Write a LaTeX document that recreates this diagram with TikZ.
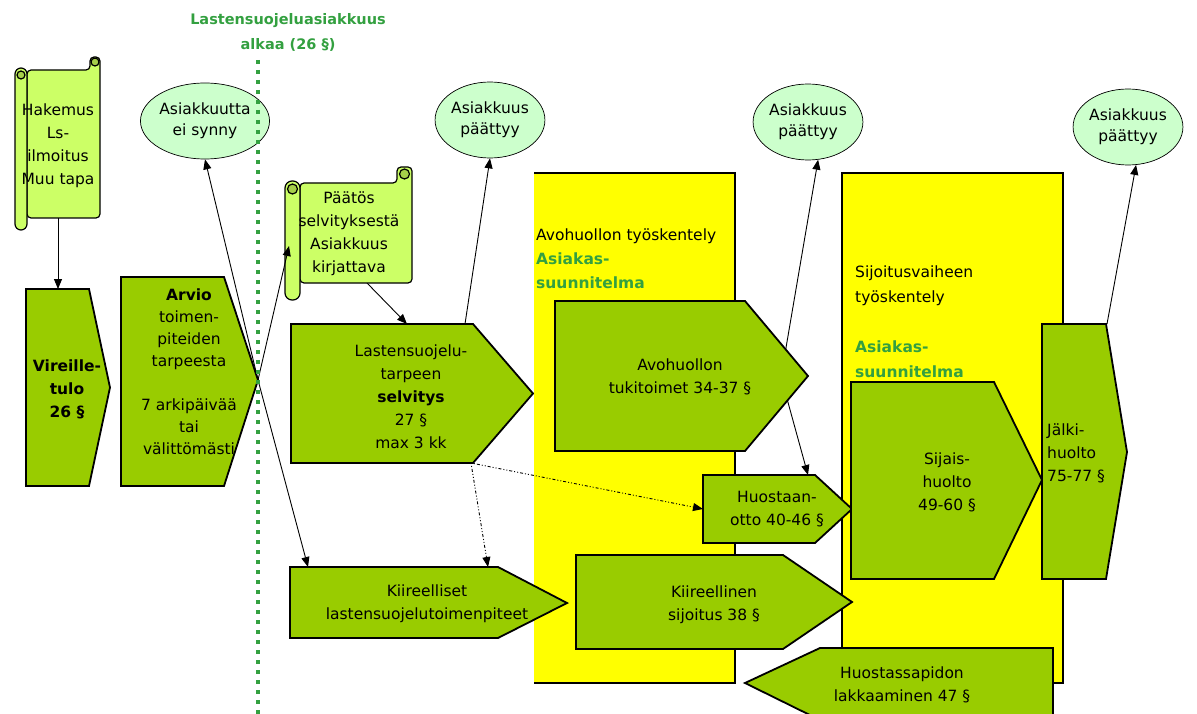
\documentclass[tikz,border=0pt]{standalone}
\usepackage{fontspec}
\setmainfont{DejaVu Sans}
\usetikzlibrary{shapes.geometric,arrows.meta}
\definecolor{phasegreen}{RGB}{153,204,0}
\definecolor{scrollgreen}{RGB}{204,255,102}
\definecolor{curlgreen}{RGB}{166,207,74}
\definecolor{endgreen}{RGB}{204,255,204}
\definecolor{textgreen}{RGB}{51,160,64}
\definecolor{phaseyellow}{RGB}{255,255,0}

\begin{document}
\begin{tikzpicture}[x=1pt,y=-1pt,>={Triangle[length=10pt,width=8pt]},
  phase/.style={draw,fill=phasegreen,line width=1.8pt,line join=miter},
  scrollpart/.style={draw,fill=scrollgreen,line width=1.2pt},
  txt/.style={font=\fontsize{15.5}{23}\selectfont,align=center,inner sep=0pt},
  boldtxt/.style={txt,font=\fontsize{15.5}{23}\selectfont\bfseries},
  endnode/.style={ellipse,draw,fill=endgreen,line width=0.7pt,minimum width=86pt,minimum height=76pt,
    inner sep=0pt,font=\fontsize{15.5}{21}\selectfont,align=center},
  conn/.style={->,line width=0.9pt},
  maybe/.style={->,line width=0.9pt,dash pattern=on 1pt off 2pt on 1pt off 2pt on 3pt off 2pt}]
  \useasboundingbox (0,0) rectangle (1197,714);

  % work phases
  \fill[phaseyellow] (534,173) rectangle (735,683);
  \draw[line width=1.8pt] (534,173) -- (735,173) -- (735,683) -- (534,683);
  \fill[phaseyellow] (842,173) rectangle (1063,683);
  \draw[line width=1.8pt] (842,173) rectangle (1063,683);
  \node[txt,anchor=north west,align=left,font=\fontsize{15.5}{24}\selectfont] (avolabel) at (536,228.6)
    {Avohuollon työskentely\\\textcolor{textgreen}{\textbf{Asiakas-}}\\\textcolor{textgreen}{\textbf{suunnitelma}}};
  \node[txt,anchor=north west,align=left,font=\fontsize{15.5}{25}\selectfont] (sijlabel) at (855,265.6)
    {Sijoitusvaiheen\\työskentely\\[25pt]\textcolor{textgreen}{\textbf{Asiakas-}}\\\textcolor{textgreen}{\textbf{suunnitelma}}};

  % start of client relationship
  \node[txt,font=\fontsize{14.5}{25}\selectfont\bfseries,text=textgreen] (alkaa) at (288,32)
    {Lastensuojeluasiakkuus\\alkaa (26 §)};

  % end states
  \node[endnode,minimum width=106pt] (end0) at (205,121) {Asiakkuutta\\ei synny};
  \node[endnode] (end1) at (490,120) {Asiakkuus\\päättyy};
  \node[endnode] (end2) at (808,122) {Asiakkuus\\päättyy};
  \node[endnode] (end3) at (1128,127) {Asiakkuus\\päättyy};

  \coordinate (hak-s) at (58,218);
  \coordinate (vir-n) at (58,289);
  \coordinate (arv-tip) at (258,380);
  \coordinate (paa-w) at (289,246);
  \coordinate (paa-s) at (367,283);
  \coordinate (selv-n) at (407,324);
  \coordinate (selv-n2) at (465,324);
  \coordinate (selv-se) at (471,463);
  \coordinate (kii-n) at (308,567);
  \coordinate (kii-n2) at (488,567);
  \coordinate (avo-in) at (781,377);
  \coordinate (huos-n) at (808,475);
  \coordinate (huos-w) at (703,509);
  \coordinate (jal-n) at (1107,324);

  % connectors
  \draw[conn] (hak-s) -- (vir-n);
  \draw[conn] (arv-tip) -- (end0.south);
  \draw[conn] (arv-tip) -- (kii-n);
  \draw[conn] (paa-s) -- (selv-n);
  \draw[conn] (selv-n2) -- (end1.south);
  \draw[maybe] (selv-se) -- (kii-n2);
  \draw[maybe] (selv-se) -- (huos-w);
  \draw[conn] (avo-in) -- (end2.285);
  \draw[conn] (avo-in) -- (huos-n);
  \draw[conn] (jal-n) -- (end3.282);

  % scrolls
  \draw[scrollpart,rounded corners=4pt] (27,70) -- (90,70) -- (90,57) -- (100,57) -- (100,218) -- (27,218) -- cycle;
  \draw[scrollpart,fill=curlgreen] (95,62) circle (4);
  \draw[scrollpart,rounded corners=6pt] (15,68) rectangle (27,230);
  \draw[scrollpart,fill=curlgreen] (21,75) circle (4);
  \node[txt] (hakemus) at (58,146) {Hakemus\\Ls-\\ilmoitus\\Muu tapa};

  \draw[scrollpart,rounded corners=4pt] (300,183) -- (397,183) -- (397,167) -- (412,167) -- (412,283) -- (300,283) -- cycle;
  \draw[scrollpart,fill=curlgreen] (404.5,174) circle (5);
  \draw[scrollpart,rounded corners=7pt] (285,181) rectangle (300,300);
  \draw[scrollpart,fill=curlgreen] (292.5,189) circle (5);
  \node[txt] (paatos) at (349,234) {Päätös\\selvityksestä\\Asiakkuus\\kirjattava};
  \draw[conn] (arv-tip) -- (paa-w);

  % phases
  \draw[phase] (26,289) -- (89,289) -- (110,387.5) -- (89,486) -- (26,486) -- cycle;
  \node[boldtxt] (vireille) at (67,389) {Vireille-\\tulo\\26 §};

  \draw[phase] (121,277) -- (224,277) -- (258,380) -- (224,486) -- (121,486) -- cycle;
  \node[txt,font=\fontsize{15.5}{22}\selectfont] (arvio) at (189,372)
    {\textbf{Arvio}\\toimen-\\piteiden\\tarpeesta\\[22pt]7 arkipäivää\\tai\\välittömästi};

  \draw[phase] (291,324) -- (473,324) -- (533,393.5) -- (473,463) -- (291,463) -- cycle;
  \node[txt] (selvitys) at (411,397) {Lastensuojelu-\\tarpeen\\\textbf{selvitys}\\27 §\\max 3 kk};

  \draw[phase] (555,301) -- (745,301) -- (808,376) -- (745,451) -- (555,451) -- cycle;
  \node[txt] (avohuolto) at (680,377) {Avohuollon\\tukitoimet 34-37 §};

  \draw[phase] (703,475) -- (815,475) -- (852,509) -- (815,543) -- (703,543) -- cycle;
  \node[txt] (huostaanotto) at (777,509) {Huostaan-\\otto 40-46 §};

  \draw[phase] (290,567) -- (498,567) -- (567,603) -- (498,638) -- (290,638) -- cycle;
  \node[txt] (kiireelliset) at (427,604) {Kiireelliset\\lastensuojelutoimenpiteet};

  \draw[phase] (576,555) -- (783,555) -- (852,602) -- (783,649) -- (576,649) -- cycle;
  \node[txt] (kiireellinen) at (714,605) {Kiireellinen\\sijoitus 38 §};

  \draw[phase] (851,382) -- (994,382) -- (1042,480) -- (994,579) -- (851,579) -- cycle;
  \node[txt] (sijaishuolto) at (947,482) {Sijais-\\huolto\\49-60 §};

  \draw[phase] (1042,324) -- (1106,324) -- (1127,452) -- (1106,579) -- (1042,579) -- cycle;
  \node[txt,anchor=north west,align=left] (jalkihuolto) at (1047,423.6) {Jälki-\\huolto\\75-77 §};

  \draw[phase] (745,683) -- (820,648) -- (1053,648) -- (1053,720) -- (820,720) -- cycle;
  \node[txt] (lakkaaminen) at (902,685) {Huostassapidon\\lakkaaminen 47 §};

  % border of the client relationship
  \draw[textgreen,line width=4pt,dash pattern=on 4pt off 6pt] (258,60) -- (258,714);
\end{tikzpicture}
\end{document}
